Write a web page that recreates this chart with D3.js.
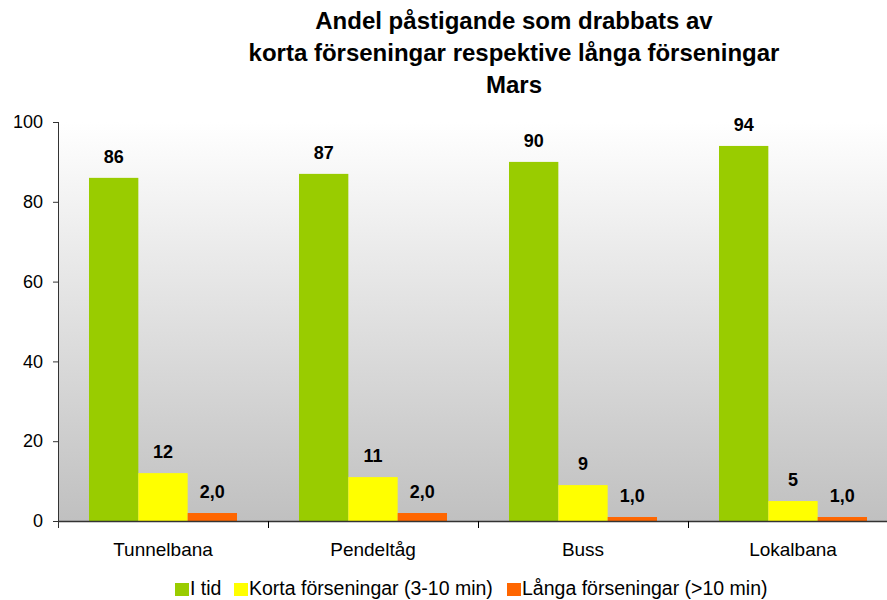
<!DOCTYPE html>
<html>
<head>
<meta charset="utf-8">
<script src="https://cdn.jsdelivr.net/npm/d3@7"></script>
<style>
  body { margin: 0; background: #fff; }
  text { font-family: "Liberation Sans", Arial, sans-serif; }
</style>
</head>
<body>
<div id="chart"></div>
<script>
// data
const categories = ["Tunnelbana", "Pendeltåg", "Buss", "Lokalbana"]
const seriesNames = ["I tid", "Korta förseningar (3-10 min)", "Långa förseningar (>10 min)"]
const iTid = [86, 87, 90, 94]
const korta = [12, 11, 9, 5]
const langa = [2.0, 2.0, 1.0, 1.0]
const yTicks = [0, 20, 40, 60, 80, 100]
const titleLines = ["Andel påstigande som drabbats av", "korta förseningar respektive långa förseningar", "Mars"]

const colors = ["#99CC00", "#FFFF00", "#FF6600"]
const series = [iTid, korta, langa]
const fmt = [d => d3.format("d")(d), d => d3.format("d")(d), d => d3.format(".1f")(d).replace(".", ",")]

const W = 887, H = 600
const margin = {top: 122, right: -11, bottom: 79, left: 58}
const width = W - margin.left - margin.right
const height = H - margin.top - margin.bottom

const svg = d3.select("#chart").append("svg")
    .attr("width", W)
    .attr("height", H)

const defs = svg.append("defs")
const grad = defs.append("linearGradient")
    .attr("id", "bg")
    .attr("x1", 0).attr("y1", 0).attr("x2", 0).attr("y2", 1)
grad.append("stop").attr("offset", "0%").attr("stop-color", "#FFFFFF")
grad.append("stop").attr("offset", "100%").attr("stop-color", "#C0C0C0")

// title
svg.append("g").selectAll("text")
    .data(titleLines)
  .enter().append("text")
    .attr("x", 514)
    .attr("y", (d, i) => 29 + i * 32)
    .attr("text-anchor", "middle")
    .style("font-size", "24px")
    .style("font-weight", "bold")
    .text(d => d)

const g = svg.append("g")
    .attr("transform", "translate(" + margin.left + "," + margin.top + ")")

const x0 = d3.scaleBand()
    .domain(categories)
    .range([0, width])
    .paddingInner(0)
    .paddingOuter(0)

const x1 = d3.scaleBand()
    .domain(d3.range(series.length))
    .range([31, x0.bandwidth() - 31])

const y = d3.scaleLinear()
    .domain([0, 100])
    .range([height, 0])

g.append("rect")
    .attr("x", 0)
    .attr("y", 0)
    .attr("width", width)
    .attr("height", height)
    .attr("fill", "url(#bg)")

// bars
const groups = g.selectAll(".grp")
    .data(categories)
  .enter().append("g")
    .attr("class", "grp")
    .attr("transform", d => "translate(" + x0(d) + ",0)")

groups.each(function(cat, ci) {
  const grp = d3.select(this)
  series.forEach((s, si) => {
    grp.append("rect")
        .attr("x", x1(si))
        .attr("y", y(s[ci]))
        .attr("width", x1.bandwidth())
        .attr("height", height - y(s[ci]))
        .attr("fill", colors[si])
    grp.append("text")
        .attr("x", x1(si) + x1.bandwidth() / 2)
        .attr("y", y(s[ci]) - 15)
        .attr("text-anchor", "middle")
        .style("font-size", "18px")
        .style("font-weight", "bold")
        .text(fmt[si](s[ci]))
  })
})

// y axis
const yAxis = g.append("g")
    .call(d3.axisLeft(y).tickValues(yTicks).tickSize(5).tickPadding(10))
yAxis.select(".domain").attr("stroke", "#333").attr("d", "M0.5," + 0 + "V" + (height + 7))
yAxis.selectAll(".tick line").attr("stroke", "#333")
yAxis.selectAll("text").style("font-size", "18px").attr("fill", "#000")

// x axis
const xAxis = g.append("g")
    .attr("transform", "translate(0," + height + ")")
    .call(d3.axisBottom(x0).tickSize(0).tickPadding(22))
xAxis.select(".domain").attr("stroke", "#333").attr("stroke-width", 1.5)
xAxis.selectAll("text").style("font-size", "19px").attr("fill", "#000")
xAxis.selectAll(".sep")
    .data(categories.slice(1))
  .enter().append("line")
    .attr("class", "sep")
    .attr("x1", d => Math.round(x0(d)) + 0.5)
    .attr("x2", d => Math.round(x0(d)) + 0.5)
    .attr("y1", 0)
    .attr("y2", 7)
    .attr("stroke", "#000")

// legend
const legendX = [175, 234, 507]
const legend = svg.append("g")
seriesNames.forEach((name, i) => {
  legend.append("rect")
      .attr("x", legendX[i])
      .attr("y", 583)
      .attr("width", 14)
      .attr("height", 13)
      .attr("fill", colors[i])
  legend.append("text")
      .attr("x", legendX[i] + 15)
      .attr("y", 595)
      .style("font-size", "19.5px")
      .text(name)
})
</script>
</body>
</html>
